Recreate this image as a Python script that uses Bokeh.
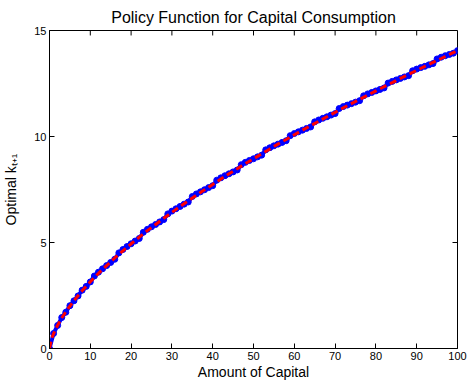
from bokeh.plotting import figure
from bokeh.models import FixedTicker, Range1d
from bokeh.embed import file_html
from bokeh.resources import INLINE

# ---- data ----
capital_grid = list(range(101))
policy_grid = [
    0.00, 0.71, 1.09, 1.46, 1.71, 2.02, 2.25, 2.48, 2.75, 2.93,
    3.14, 3.42, 3.60, 3.76, 3.91, 4.06, 4.21, 4.51, 4.67, 4.81,
    4.94, 5.07, 5.19, 5.48, 5.62, 5.74, 5.85, 5.97, 6.08, 6.35,
    6.48, 6.59, 6.70, 6.81, 6.91, 7.17, 7.29, 7.39, 7.49, 7.59,
    7.68, 7.94, 8.05, 8.15, 8.24, 8.33, 8.42, 8.67, 8.78, 8.87,
    8.95, 9.04, 9.12, 9.37, 9.47, 9.56, 9.64, 9.72, 9.80, 10.04,
    10.14, 10.22, 10.30, 10.38, 10.45, 10.69, 10.78, 10.86, 10.93, 11.01,
    11.08, 11.32, 11.41, 11.48, 11.55, 11.62, 11.69, 11.92, 12.01, 12.08,
    12.15, 12.22, 12.29, 12.52, 12.60, 12.67, 12.74, 12.81, 12.87, 13.10,
    13.18, 13.25, 13.31, 13.38, 13.44, 13.66, 13.74, 13.81, 13.87, 13.93,
    14.05,
]
capital_smooth = [0, 0.5, 1, 2, 3, 4, 5, 6, 8, 10, 12, 14, 16, 18, 20, 22, 24, 26, 28, 30,
                  32, 34, 36, 38, 40, 42, 44, 46, 48, 50, 52, 54, 56, 58, 60, 62, 64, 66,
                  68, 70, 72, 74, 76, 78, 80, 82, 84, 86, 88, 90, 92, 94, 96, 98, 100]
policy_smooth = [0.00, 0.45, 0.70, 1.10, 1.44, 1.73, 2.00, 2.26, 2.72, 3.15, 3.54, 3.91,
                 4.27, 4.61, 4.94, 5.25, 5.56, 5.85, 6.14, 6.42, 6.70, 6.97, 7.23, 7.49,
                 7.74, 7.99, 8.24, 8.48, 8.72, 8.95, 9.18, 9.41, 9.64, 9.86, 10.08, 10.30,
                 10.51, 10.72, 10.93, 11.14, 11.35, 11.55, 11.75, 11.95, 12.15, 12.35,
                 12.54, 12.74, 12.93, 13.12, 13.31, 13.50, 13.68, 13.87, 14.05]
x_ticks = [0, 10, 20, 30, 40, 50, 60, 70, 80, 90, 100]
y_ticks = [0, 5, 10, 15]
x_min, x_max = 0, 100
y_min, y_max = 0, 15

FONT = "Liberation Sans"
W, H = 467, 382
BL, BR, BT, BB = 49, 10, 30, 32
TICK_PX = 5

p = figure(width=W, height=H, output_backend="svg", toolbar_location=None,
           x_range=Range1d(x_min, x_max), y_range=Range1d(y_min, y_max),
           min_border_left=BL, min_border_right=BR, min_border_top=BT,
           min_border_bottom=BB, background_fill_color="white",
           border_fill_color="white")

p.title.text = "Policy Function for Capital Consumption"
p.title.align = "center"
p.title.text_font = FONT
p.title.text_font_size = "16px"
p.title.text_font_style = "normal"
p.title.text_color = "black"

p.xgrid.visible = False
p.ygrid.visible = False
p.outline_line_color = "black"
p.outline_line_width = 1
p.outline_line_alpha = 1

p.xaxis.ticker = FixedTicker(ticks=x_ticks)
p.yaxis.ticker = FixedTicker(ticks=y_ticks)

for ax in list(p.xaxis) + list(p.yaxis):
    ax.major_tick_in = TICK_PX
    ax.major_tick_out = 0
    ax.minor_tick_in = 0
    ax.minor_tick_out = 0
    ax.axis_line_color = "black"
    ax.major_tick_line_color = "black"
    ax.major_label_text_font = FONT
    ax.major_label_text_font_size = "11px"
    ax.major_label_text_color = "black"
    ax.major_label_standoff = 3
    ax.axis_label_text_font = FONT
    ax.axis_label_text_font_size = "14px"
    ax.axis_label_text_font_style = "normal"
    ax.axis_label_text_color = "black"

p.xaxis.axis_label = "Amount of Capital"
p.xaxis.axis_label_standoff = 1
p.yaxis.axis_label = "Optimal k\u209c\u208a\u2081"
p.yaxis.axis_label_standoff = 12

# mirrored inward ticks on the top and right edges of the box
frame_w = W - BL - BR
frame_h = H - BT - BB
ty = (y_max - y_min) * TICK_PX / frame_h
tx = (x_max - x_min) * TICK_PX / frame_w
p.segment(x0=x_ticks, y0=[y_max] * len(x_ticks), x1=x_ticks, y1=[y_max - ty] * len(x_ticks),
          line_color="black", line_width=1)
p.segment(x0=[x_max] * len(y_ticks), y0=y_ticks, x1=[x_max - tx] * len(y_ticks), y1=y_ticks,
          line_color="black", line_width=1)

p.line(capital_grid, policy_grid, line_color="blue", line_width=4)
p.scatter(capital_grid, policy_grid, size=6, fill_color="blue", line_color="blue")
p.line(capital_smooth, policy_smooth, line_color="red", line_width=3, line_dash="7 4")

open("out.html", "w").write(file_html(p, INLINE))
